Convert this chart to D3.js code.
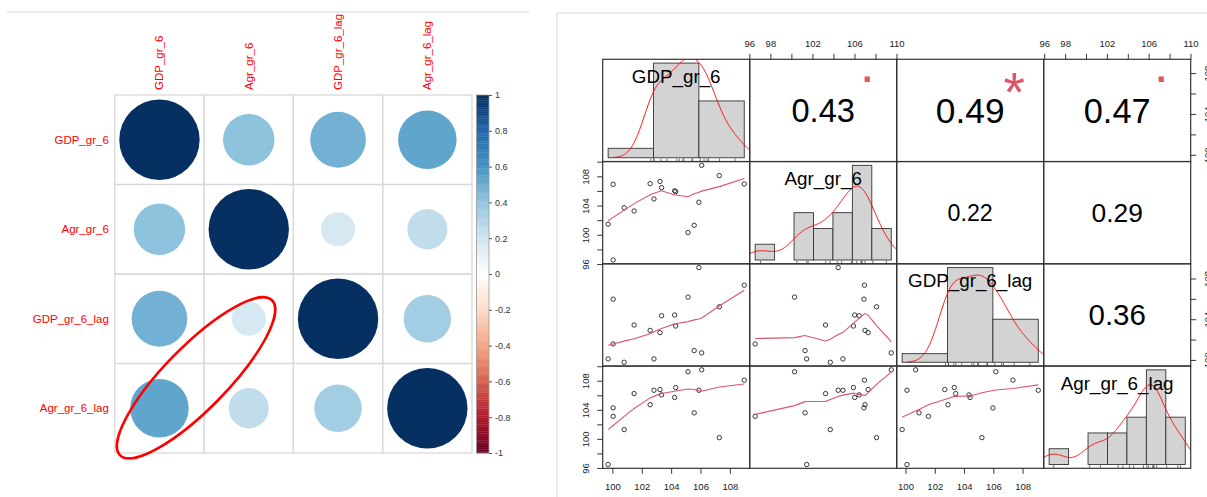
<!DOCTYPE html>
<html>
<head>
<meta charset="utf-8">
<script src="https://cdn.jsdelivr.net/npm/d3@7"></script>
<style>
  body { margin: 0; background: #fff; }
  svg { display: block; font-family: "Liberation Sans", Arial, sans-serif; }
</style>
</head>
<body>
<svg id="chart" width="1207" height="497"></svg>
<script>
// ---- data ----
var varNames = ["GDP_gr_6", "Agr_gr_6", "GDP_gr_6_lag", "Agr_gr_6_lag"];

var corrMatrix = [
  [1.00, 0.41, 0.48, 0.53],
  [0.41, 1.00, 0.18, 0.25],
  [0.48, 0.18, 1.00, 0.35],
  [0.53, 0.25, 0.35, 1.00]
];
var legendTicks = [1, 0.8, 0.6, 0.4, 0.2, 0, -0.2, -0.4, -0.6, -0.8, -1];
var rdbu = ["#67001F", "#B2182B", "#D6604D", "#F4A582", "#FDDBC7", "#FFFFFF",
            "#D1E5F0", "#92C5DE", "#4393C3", "#2166AC", "#053061"];

var gdp    = [99.71, 100.05, 100.05, 100.80, 101.48, 102.57, 102.83, 103.24, 103.35,
              104.24, 104.31, 105.15, 105.57, 105.89, 106.08, 107.28, 108.98];
var agr    = [101.45, 106.90, 96.55, 103.70, 103.25, 107.00, 104.90, 107.30, 106.45,
              106.02, 105.90, 100.30, 101.30, 104.45, 109.50, 108.10, 106.95];
var gdpLag = [100.10, 105.97, 101.57, 99.77, 103.43, 102.90, 100.10, 102.68, 104.34,
              104.41, 103.33, 106.17, 100.92, 109.07, 100.69, 105.22, 107.34];
var agrLag = [96.47, 104.26, 103.10, 101.28, 106.23, 104.70, 106.69, 106.79, 106.05,
              105.70, 107.06, 109.24, 103.58, 106.69, 109.50, 100.17, 108.08];

// upper panels: printed correlation and significance symbol
var pairCells  = [[0, 1], [0, 2], [0, 3], [1, 2], [1, 3], [2, 3]];
var pairR      = [0.43, 0.49, 0.47, 0.22, 0.29, 0.36];
var pairStars  = [".", "*", ".", "", "", ""];

var histBreaks = [
  [95, 100, 105, 110],
  [96, 98, 100, 102, 104, 106, 108, 110],
  [95, 100, 105, 110],
  [96, 98, 100, 102, 104, 106, 108, 110]
];
var topTicks = [96, 98, 100, 102, 104, 106, 108, 110], topLabels = [96, 98, 102, 106, 110];
var leftTicks = [96, 98, 100, 102, 104, 106, 108, 110], leftLabels = [96, 100, 104, 108];
var bottomTicks = [100, 102, 104, 106, 108], bottomLabels = [100, 102, 104, 106, 108];
var rightTicks = [100, 102, 104, 106, 108], rightLabels = [100, 104, 108];

var svg = d3.select("#chart");
var defs = svg.append("defs");

// screenshot frame lines
svg.append("line").attr("x1", 7).attr("x2", 529).attr("y1", 12).attr("y2", 12)
  .attr("stroke", "#e4e6e6").attr("stroke-width", 1.5);
svg.append("path").attr("d", "M557,497V13H1207").attr("fill", "none")
  .attr("stroke", "#e4e6e6").attr("stroke-width", 1.5);

// ================= corrplot =================
var cp = {left: 114.8, top: 95, w: 357.2, h: 358};
var cxs = d3.scaleBand().domain(varNames).range([cp.left, cp.left + cp.w]);
var cys = d3.scaleBand().domain(varNames).range([cp.top, cp.top + cp.h]);
var colorScale = d3.scaleLinear()
  .domain(rdbu.map(function(c, i){ return -1 + i * 0.2; }))
  .range(rdbu).interpolate(d3.interpolateRgb);

var cells = [];
corrMatrix.forEach(function(row, i){
  row.forEach(function(r, j){ cells.push({row: varNames[i], col: varNames[j], r: r}); });
});

var cpG = svg.append("g");
cpG.selectAll("ellipse.cc").data(cells).enter().append("ellipse")
  .attr("class", "cc")
  .attr("cx", function(d){ return cxs(d.col) + cxs.bandwidth() / 2; })
  .attr("cy", function(d){ return cys(d.row) + cys.bandwidth() / 2; })
  .attr("rx", function(d){ return 0.45 * cxs.bandwidth() * Math.sqrt(Math.abs(d.r)); })
  .attr("ry", function(d){ return 0.45 * cys.bandwidth() * Math.sqrt(Math.abs(d.r)); })
  .attr("fill", function(d){ return colorScale(d.r); });

cpG.selectAll("rect.grid").data(cells).enter().append("rect")
  .attr("class", "grid")
  .attr("x", function(d){ return cxs(d.col); })
  .attr("y", function(d){ return cys(d.row); })
  .attr("width", cxs.bandwidth()).attr("height", cys.bandwidth())
  .attr("fill", "none").attr("stroke", "#d9d9d9").attr("stroke-width", 1.3);

cpG.selectAll("text.rowlab").data(varNames).enter().append("text")
  .attr("class", "rowlab")
  .attr("x", cp.left - 6)
  .attr("y", function(d){ return cys(d) + cys.bandwidth() / 2; })
  .attr("dy", "0.35em").attr("text-anchor", "end")
  .attr("font-size", 11.5).attr("fill", "#ff0000")
  .text(function(d){ return d; });

cpG.selectAll("text.collab").data(varNames).enter().append("text")
  .attr("class", "collab")
  .attr("transform", function(d){ return "translate(" + (cxs(d) + cxs.bandwidth() / 2) + "," + (cp.top - 5) + ") rotate(-90)"; })
  .attr("dy", "0.35em").attr("text-anchor", "start")
  .attr("font-size", 11.5).attr("fill", "#ff0000")
  .text(function(d){ return d; });

// highlight ellipse around the lagged cross correlations
var cellW = cxs.bandwidth(), cellH = cys.bandwidth();
var ecx = cp.left + 0.91 * cellW, ecy = cp.top + 3.16 * cellH;
cpG.append("ellipse")
  .attr("transform", "translate(" + ecx + "," + ecy + ") rotate(-45.6)")
  .attr("rx", 1.215 * cellW).attr("ry", 0.35 * cellH)
  .attr("fill", "none").attr("stroke", "#ff0000").attr("stroke-width", 2.6);

// colour legend
var legX = 476.5, legW = 12.5;
var legY = d3.scaleLinear().domain([-1, 1]).range([cp.top + cp.h, cp.top]);
var legSteps = d3.range(200).map(function(k){ return -1 + k * 0.01; });
cpG.selectAll("rect.leg").data(legSteps).enter().append("rect")
  .attr("class", "leg")
  .attr("x", legX).attr("width", legW)
  .attr("y", function(d){ return legY(d + 0.01); })
  .attr("height", legY(0) - legY(0.01) + 0.3)
  .attr("fill", function(d){ return colorScale(d + 0.005); });
cpG.append("rect").attr("x", legX).attr("y", cp.top).attr("width", legW).attr("height", cp.h)
  .attr("fill", "none").attr("stroke", "#9a9a9a").attr("stroke-width", 0.8);
var legAxis = cpG.append("g").attr("transform", "translate(" + (legX + legW) + ",0)")
  .call(d3.axisRight(legY).tickValues(legendTicks).tickSize(3).tickPadding(3)
    .tickFormat(function(d){ return String(d); }));
legAxis.select(".domain").remove();
legAxis.selectAll("line").attr("stroke", "#555");
legAxis.selectAll("text").attr("font-size", 9).attr("fill", "#333")
  .attr("font-family", "'Liberation Sans', Arial, sans-serif");

// ================= pairs panel =================
var pp = {left: 602.7, top: 59.3, w: 147, h: 102.25};
var pairsData = [gdp, agr, gdpLag, agrLag];
var nObs = gdp.length;

function rangeExt(v) {
  var e = d3.extent(v), d = (e[1] - e[0]) * 0.04;
  return [e[0] - d, e[1] + d];
}
function colScale(j) {
  return d3.scaleLinear().domain(rangeExt(pairsData[j])).range([pp.left + j * pp.w, pp.left + (j + 1) * pp.w]);
}
function rowScale(i) {
  return d3.scaleLinear().domain(rangeExt(pairsData[i])).range([pp.top + (i + 1) * pp.h, pp.top + i * pp.h]);
}

// R's lowess (clowess)
function lowest(x, y, xs, nleft, nright, userw, rw) {
  var n = x.length, range = x[n - 1] - x[0];
  var h = Math.max(xs - x[nleft], x[nright] - xs);
  var h9 = 0.999 * h, h1 = 0.001 * h;
  var w = new Array(n).fill(0), a = 0, j = nleft;
  while (j < n) {
    w[j] = 0;
    var r = Math.abs(x[j] - xs);
    if (r <= h9) {
      w[j] = r <= h1 ? 1 : Math.pow(1 - Math.pow(r / h, 3), 3);
      if (userw) w[j] *= rw[j];
      a += w[j];
    } else if (x[j] > xs) break;
    j++;
  }
  var nrt = j - 1;
  if (a <= 0) return null;
  for (j = nleft; j <= nrt; j++) w[j] /= a;
  if (h > 0) {
    a = 0;
    for (j = nleft; j <= nrt; j++) a += w[j] * x[j];
    var b = xs - a, c = 0;
    for (j = nleft; j <= nrt; j++) c += w[j] * (x[j] - a) * (x[j] - a);
    if (Math.sqrt(c) > 0.001 * range) {
      b /= c;
      for (j = nleft; j <= nrt; j++) w[j] *= (b * (x[j] - a) + 1);
    }
  }
  var ys = 0;
  for (j = nleft; j <= nrt; j++) ys += w[j] * y[j];
  return ys;
}

function lowess(xIn, yIn, f, iter) {
  var ord = d3.range(xIn.length).sort(function(a, b){ return xIn[a] - xIn[b]; });
  var x = ord.map(function(i){ return xIn[i]; }), y = ord.map(function(i){ return yIn[i]; });
  var n = x.length;
  var ns = Math.max(2, Math.min(n, Math.floor(f * n + 1e-7)));
  var delta = 0.01 * (x[n - 1] - x[0]);
  var ys = new Array(n).fill(0), rw = new Array(n).fill(1), res = new Array(n).fill(0);
  for (var it = 1; it <= iter + 1; it++) {
    var nleft = 0, nright = ns - 1, last = -1, i = 0;
    for (;;) {
      if (nright < n - 1) {
        var d1 = x[i] - x[nleft], d2 = x[nright + 1] - x[i];
        if (d1 > d2) { nleft++; nright++; continue; }
      }
      var fit = lowest(x, y, x[i], nleft, nright, it > 1, rw);
      ys[i] = fit === null ? y[i] : fit;
      if (last < i - 1) {
        var denom = x[i] - x[last];
        for (var j = last + 1; j < i; j++) {
          var alpha = (x[j] - x[last]) / denom;
          ys[j] = alpha * ys[i] + (1 - alpha) * ys[last];
        }
      }
      last = i;
      var cut = x[last] + delta;
      for (i = last + 1; i < n; i++) {
        if (x[i] > cut) break;
        if (x[i] === x[last]) { ys[i] = ys[last]; last = i; }
      }
      i = Math.max(last + 1, i - 1);
      if (last >= n - 1) break;
    }
    for (var k = 0; k < n; k++) res[k] = y[k] - ys[k];
    if (it > iter) break;
    var sc = d3.sum(res, Math.abs) / n;
    var ar = res.map(Math.abs).sort(d3.ascending);
    var m1 = Math.floor(n / 2), cmad;
    if (n % 2 === 0) cmad = 3 * (ar[m1] + ar[n - m1 - 1]);
    else cmad = 6 * ar[m1];
    if (cmad < 1e-7 * sc) break;
    var c9 = 0.999 * cmad, c1 = 0.001 * cmad;
    for (k = 0; k < n; k++) {
      var rr = Math.abs(res[k]);
      rw[k] = rr <= c1 ? 1 : (rr <= c9 ? Math.pow(1 - Math.pow(rr / cmad, 2), 2) : 0);
    }
  }
  return x.map(function(v, i){ return [v, ys[i]]; });
}

// gaussian kernel density, bw.nrd0
function density(v) {
  var s = v.slice().sort(d3.ascending), n = v.length;
  var iqr = d3.quantile(s, 0.75) - d3.quantile(s, 0.25);
  var lo = Math.min(d3.deviation(v), iqr / 1.34);
  var bw = 0.9 * lo * Math.pow(n, -0.2);
  var from = s[0] - 3 * bw, to = s[n - 1] + 3 * bw;
  return d3.range(512).map(function(k){
    var x = from + k * (to - from) / 511;
    var sum = d3.sum(v, function(d){ return Math.exp(-0.5 * Math.pow((x - d) / bw, 2)); });
    return [x, sum / (n * bw * Math.sqrt(2 * Math.PI))];
  });
}

// histogram counts with R's right-closed bins
function histCounts(v, br) {
  return d3.range(br.length - 1).map(function(k){
    return v.filter(function(d){
      return (d > br[k] || (k === 0 && d >= br[0])) && d <= br[k + 1];
    }).length;
  });
}

var pG = svg.append("g");
var smoothColor = "#DF536B";

function panelBox(i, j) {
  return {x: pp.left + j * pp.w, y: pp.top + i * pp.h};
}

for (var i = 0; i < 4; i++) {
  for (var j = 0; j < 4; j++) {
    var b = panelBox(i, j);
    var cid = "clip-" + i + "-" + j;
    defs.append("clipPath").attr("id", cid).append("rect")
      .attr("x", b.x).attr("y", b.y).attr("width", pp.w).attr("height", pp.h);
    var g = pG.append("g").attr("clip-path", "url(#" + cid + ")");

    if (i > j) {
      // scatter + lowess
      var xs = colScale(j), ys = rowScale(i);
      var xv = pairsData[j], yv = pairsData[i];
      g.selectAll("circle").data(d3.range(nObs)).enter().append("circle")
        .attr("cx", function(k){ return xs(xv[k]); })
        .attr("cy", function(k){ return ys(yv[k]); })
        .attr("r", 2.2).attr("fill", "none").attr("stroke", "#222").attr("stroke-width", 0.9);
      g.append("path").datum(lowess(xv, yv, 2 / 3, 3))
        .attr("d", d3.line().x(function(d){ return xs(d[0]); }).y(function(d){ return ys(d[1]); }))
        .attr("fill", "none").attr("stroke", smoothColor).attr("stroke-width", 1.1);
    } else if (i === j) {
      var v = pairsData[i], br = histBreaks[i];
      var counts = histCounts(v, br);
      var binW = br[1] - br[0];
      var dens = counts.map(function(c){ return c / (nObs * binW); });
      var span = br[br.length - 1] - br[0];
      var hx = d3.scaleLinear().domain([br[0] - 0.04 * span, br[br.length - 1] + 0.04 * span])
        .range([b.x, b.x + pp.w]);
      var dmax = d3.max(dens);
      var hy = d3.scaleLinear().domain([-0.04 * dmax, 1.04 * dmax]).range([b.y + pp.h, b.y]);
      g.selectAll("rect").data(dens).enter().append("rect")
        .attr("x", function(d, k){ return hx(br[k]); })
        .attr("width", function(d, k){ return hx(br[k + 1]) - hx(br[k]); })
        .attr("y", function(d){ return hy(d); })
        .attr("height", function(d){ return hy(0) - hy(d); })
        .attr("fill", "#d3d3d3").attr("stroke", "#333").attr("stroke-width", 0.9);
      g.append("path").datum(density(v))
        .attr("d", d3.line().x(function(d){ return hx(d[0]); }).y(function(d){ return hy(d[1]); }))
        .attr("fill", "none").attr("stroke", "#ff0000").attr("stroke-width", 1);
      g.selectAll("line.rug").data(v).enter().append("line")
        .attr("class", "rug")
        .attr("x1", function(d){ return hx(d); }).attr("x2", function(d){ return hx(d); })
        .attr("y1", b.y + pp.h).attr("y2", b.y + pp.h - 0.03 * pp.h)
        .attr("stroke", "#333").attr("stroke-width", 0.7);
      pG.append("text")
        .attr("x", b.x + pp.w / 2).attr("y", b.y + pp.h * (1 - 0.8333))
        .attr("dy", "0.35em").attr("text-anchor", "middle")
        .attr("font-size", 18.8).attr("fill", "#000")
        .text(varNames[i]);
    }
  }
}

// upper panels: correlation text and stars
pairCells.forEach(function(c, k){
  var b = panelBox(c[0], c[1]);
  var fs = (Math.abs(pairR[k]) + 0.3) * pp.w * 0.304;
  pG.append("text")
    .attr("x", b.x + pp.w / 2).attr("y", b.y + pp.h / 2 + 0.358 * fs)
    .attr("text-anchor", "middle").attr("font-size", fs).attr("fill", "#000")
    .text(pairR[k].toFixed(2));
  if (pairStars[k]) {
    var isStar = pairStars[k] === "*";
    var sfs = isStar ? 55 : 36;
    var off = isStar ? 0.575 : 0.07;
    pG.append("text")
      .attr("x", b.x + 0.8 * pp.w).attr("y", b.y + 0.2 * pp.h + off * sfs)
      .attr("text-anchor", "middle").attr("font-size", sfs)
      .attr("font-weight", isStar ? "normal" : "bold").attr("fill", smoothColor)
      .text(pairStars[k]);
  }
});

// panel boxes
for (i = 0; i < 4; i++) {
  for (j = 0; j < 4; j++) {
    var bb = panelBox(i, j);
    pG.append("rect").attr("x", bb.x).attr("y", bb.y).attr("width", pp.w).attr("height", pp.h)
      .attr("fill", "none").attr("stroke", "#333").attr("stroke-width", 1.2);
  }
}

// axes: ticks every 2, labels only where R kept them
function styleAxis(ax, labels) {
  ax.select(".domain").remove();
  ax.selectAll("line").attr("stroke", "#222").attr("stroke-width", 0.9);
  ax.selectAll("text")
    .filter(function(d){ return labels.indexOf(d) < 0; }).remove();
  ax.selectAll("text")
    .attr("font-size", 9.5).attr("fill", "#222")
    .attr("font-family", "'Liberation Sans', Arial, sans-serif");
}

[1, 3].forEach(function(j){
  var ax = pG.append("g").attr("transform", "translate(0," + pp.top + ")")
    .call(d3.axisTop(colScale(j)).tickValues(topTicks).tickSize(5.5).tickSizeOuter(0)
      .tickFormat(function(d){ return String(d); }));
  styleAxis(ax, topLabels);
  ax.selectAll("text").attr("y", -16).attr("dy", "0.35em");
});
[0, 2].forEach(function(j){
  var ax = pG.append("g").attr("transform", "translate(0," + (pp.top + 4 * pp.h) + ")")
    .call(d3.axisBottom(colScale(j)).tickValues(bottomTicks).tickSize(5.5).tickSizeOuter(0)
      .tickFormat(function(d){ return String(d); }));
  styleAxis(ax, bottomLabels);
  ax.selectAll("text").attr("y", 18.4).attr("dy", "0.35em");
});
[1, 3].forEach(function(i){
  var ax = pG.append("g").attr("transform", "translate(" + pp.left + ",0)")
    .call(d3.axisLeft(rowScale(i)).tickValues(leftTicks).tickSize(5.5).tickSizeOuter(0)
      .tickFormat(function(d){ return String(d); }));
  styleAxis(ax, leftLabels);
  ax.selectAll("text").attr("x", 0).attr("y", -17.4).attr("dy", "0.35em")
    .attr("text-anchor", "middle").attr("transform", "rotate(-90)");
});
[0, 2].forEach(function(i){
  var ax = pG.append("g").attr("transform", "translate(" + (pp.left + 4 * pp.w) + ",0)")
    .call(d3.axisRight(rowScale(i)).tickValues(rightTicks).tickSize(5.5).tickSizeOuter(0)
      .tickFormat(function(d){ return String(d); }));
  styleAxis(ax, rightLabels);
  // labels sit past the picture's right edge, as in the cropped original
  ax.selectAll("text").attr("x", 0).attr("y", 17.4).attr("dy", "0.35em")
    .attr("text-anchor", "middle").attr("transform", "rotate(-90)");
});
</script>
</body>
</html>
